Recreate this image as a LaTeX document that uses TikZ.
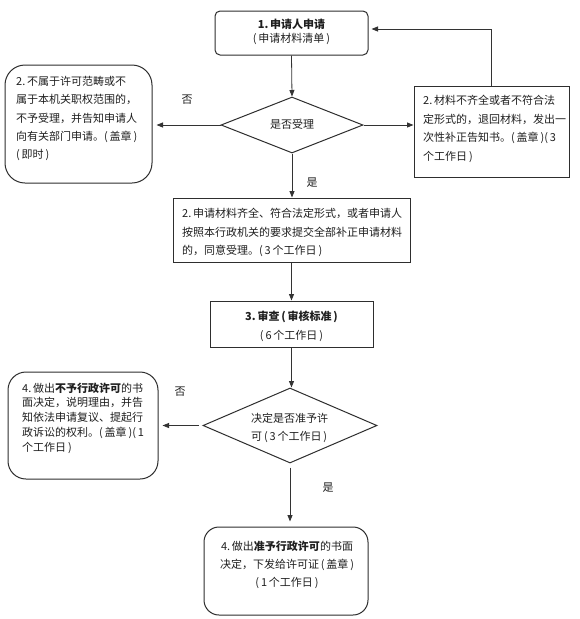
\documentclass[tikz,border=0pt]{standalone}
\usepackage{fontspec}
\newfontfamily\cjk{Noto Sans CJK SC}
\usetikzlibrary{arrows.meta,shapes.geometric}
\begin{document}
\begin{tikzpicture}[x=1pt,y=-1pt,
  ink/.style={draw=black!82,line width=1pt},
  sbox/.style={ink,inner sep=0pt,rectangle},
  rbox/.style={ink,inner sep=0pt,rectangle,rounded corners=#1},
  dia/.style={ink,diamond,inner sep=0pt},
  txt/.style={inner sep=0pt,text=black!88,font=\cjk\fontsize{11}{#1}\selectfont},
  lbl/.style={inner sep=0pt,text=black!88,font=\cjk\fontsize{11}{13}\selectfont},
  arr/.style={draw=black!80,line width=0.8pt,-{Triangle[length=6.5pt,width=5pt]}}
]
\fill[white] (0,0) rectangle (579,619);
\useasboundingbox (0,0) rectangle (579,619);

% shapes
\node[rbox=5pt, minimum width=153pt, minimum height=44pt] (b1) at (291.5,33) {};
\node[dia, minimum width=142pt, minimum height=56pt] (d1) at (292,125) {};
\node[rbox=20pt, minimum width=147pt, minimum height=118pt] (lb1) at (78.5,124) {};
\node[sbox, minimum width=155pt, minimum height=91pt] (rb) at (491.5,131.5) {};
\node[sbox, minimum width=237pt, minimum height=64pt] (b2) at (291.5,230) {};
\node[sbox, minimum width=163pt, minimum height=46pt] (b3) at (291.5,324) {};
\node[dia, minimum width=174pt, minimum height=75pt] (d2) at (290,425.5) {};
\node[rbox=18pt, minimum width=150pt, minimum height=107pt] (lb2) at (83,425.5) {};
\node[rbox=15pt, minimum width=164pt, minimum height=88pt] (bb) at (286,571) {};

% texts
\node[txt=14pt, align=center] (b1t) at (291.5,32)
  {\textbf{1.\,申请人申请}\\(\,申请材料清单\,)};
\node[txt=14pt] (d1t) at (292,124) {是否受理};
\node[txt=18.3pt, align=left, anchor=west] (lb1t) at (16,118.5)
  {2.\,不属于许可范畴或不\\属于本机关职权范围的，\\不予受理，并告知申请人\\向有关部门申请。(\,盖章\,)\\(\,即时\,)};
\node[txt=18.7pt, align=left, anchor=west] (rbt) at (423,129)
  {2.\,材料不齐全或者不符合法\\定形式的，退回材料，发出一\\次性补正告知书。(\,盖章\,)(\,3\\个工作日\,)};
\node[txt=18.5pt, align=left, anchor=west] (b2t) at (182,232.5)
  {2.\,申请材料齐全、符合法定形式，或者申请人\\按照本行政机关的要求提交全部补正申请材料\\的，同意受理。(\,3\,个工作日\,)};
\node[txt=19pt, align=center] (b3t) at (291.5,326.5)
  {\textbf{3.\,审查\,(\,审核标准\,)}\\(\,6\,个工作日\,)};
\node[txt=18pt, align=left, anchor=west] (d2t) at (251,428)
  {决定是否准予许\\可\,(\,3\,个工作日\,)};
\node[txt=14.8pt, align=left, anchor=west] (lb2t) at (22,418)
  {4.\,做出\textbf{不予行政许可}的书\\面决定，说明理由，并告\\知依法申请复议、提起行\\政诉讼的权利。(\,盖章\,)(\,1\\个工作日\,)};
\node[txt=18pt, align=center] (bbt) at (287,565)
  {4.\,做出\textbf{准予行政许可}的书面\\决定，下发给许可证\,(\,盖章\,)\\(\,1\,个工作日\,)};

% labels
\node[lbl] (no1) at (187,100) {否};
\node[lbl] (yes1) at (312,183) {是};
\node[lbl] (no2) at (180,392) {否};
\node[lbl] (yes2) at (328,488) {是};

% connectors
\draw[arr] (b1.south) -- (d1.north);
\draw[arr, shorten >=4pt] (d1.west) -- (d1.west -| lb1.east);
\draw[arr] (d1.east) -- (d1.east -| rb.west);
\draw[arr, shorten >=3pt] (rb.north) |- ([yshift=4pt]b1.east);
\draw[arr] (d1.south) -- (d1.south |- b2.north);
\draw[arr] (b2.south) -- (b2.south |- b3.north);
\draw[arr] (b3.south) -- (b3.south |- d2.north);
\draw[arr, shorten <=4pt, shorten >=4pt] (d2.west) -- (d2.west -| lb2.east);
\draw[arr, shorten <=4pt, shorten >=5pt] (d2.south) -- (d2.south |- bb.north);
\end{tikzpicture}
\end{document}
